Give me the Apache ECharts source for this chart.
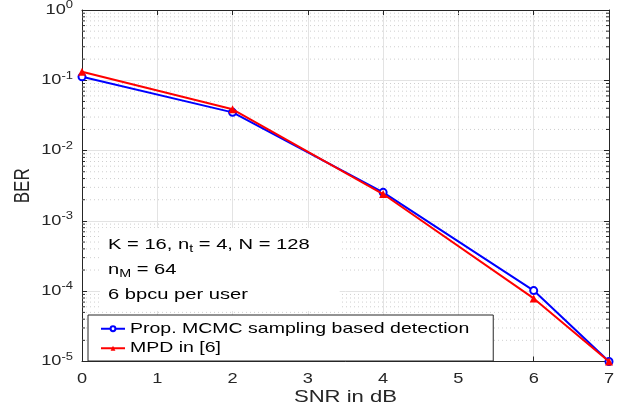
<!DOCTYPE html>
<html><head><meta charset="utf-8">
<script src="https://cdn.jsdelivr.net/npm/echarts@6/dist/echarts.min.js"></script>
<style>html,body{margin:0;padding:0;background:#fff}#c{width:623px;height:407px}</style>
</head><body><div id="c"></div>
<script>
const snr = [0, 2, 4, 6, 7];
const berMCMC = [0.112, 0.035, 0.00255, 0.000102, 0.00001];
const berMPD = [0.132, 0.0387, 0.00241, 0.000079, 0.00001];
const seriesNames = ['Prop. MCMC sampling based detection', 'MPD in [6]'];
const xTicks = [0, 1, 2, 3, 4, 5, 6, 7];
const yDecades = [-5, -4, -3, -2, -1, 0];

// The reference figure's text is horizontally stretched (~1.3x); emulate that on the canvas.
(function () {
  const P = CanvasRenderingContext2D.prototype;
  const SX = 1.3;
  const of = P.fillText, os = P.strokeText, om = P.measureText;
  function wrap(orig) {
    return function (t, x, y, mw) {
      const m = this.getTransform();
      this.save();
      this.translate(x, y);
      if (Math.abs(m.b) > Math.abs(m.a)) this.scale(1, SX); else this.scale(SX, 1);
      const r = (mw === undefined) ? orig.call(this, t, 0, 0) : orig.call(this, t, 0, 0, mw / SX);
      this.restore();
      return r;
    };
  }
  P.fillText = wrap(of);
  P.strokeText = wrap(os);
  P.measureText = function (t) {
    const m = om.call(this, t);
    return {
      width: m.width * SX,
      actualBoundingBoxAscent: m.actualBoundingBoxAscent,
      actualBoundingBoxDescent: m.actualBoundingBoxDescent,
      actualBoundingBoxLeft: m.actualBoundingBoxLeft * SX,
      actualBoundingBoxRight: m.actualBoundingBoxRight * SX,
      fontBoundingBoxAscent: m.fontBoundingBoxAscent,
      fontBoundingBoxDescent: m.fontBoundingBoxDescent
    };
  };
})();

const FONT = '"Liberation Sans", Arial, Helvetica, sans-serif';
const AX = '#262626';
const minorVals = [];
for (let i = 0; i < yDecades.length - 1; i++) {
  for (let m = 2; m <= 9; m++) minorVals.push([0, m * Math.pow(10, yDecades[i])]);
}

const chart = echarts.init(document.getElementById('c'), null, {renderer: 'canvas'});
const supRich = {
  b: {fontSize: 14, fontFamily: FONT, color: AX},
  s: {fontSize: 10, fontFamily: FONT, color: AX, padding: [0, 0, 9, 0]}
};
chart.setOption({
  animation: false,
  backgroundColor: '#fff',
  textStyle: {fontFamily: FONT},
  grid: {left: 82, right: 14, top: 10, bottom: 45.5, containLabel: false, outerBoundsMode: 'none'},
  xAxis: [{
    type: 'value', min: 0, max: 7, interval: 1,
    name: 'SNR in dB', nameLocation: 'middle', nameGap: 25, nameMoveOverlap: false,
    nameTextStyle: {fontSize: 17, color: AX, fontFamily: FONT},
    axisLine: {show: true, lineStyle: {color: AX, width: 1}},
    axisTick: {show: true, inside: true, length: 5, lineStyle: {color: AX}},
    axisLabel: {fontSize: 14, color: AX, margin: 9, fontFamily: FONT,
      formatter: v => xTicks.includes(v) ? String(v) : ''},
    splitLine: {show: true, lineStyle: {color: '#e3e3e3', width: 1}}
  }, {
    type: 'value', min: 0, max: 7, interval: 1, position: 'top',
    axisLine: {show: true, onZero: false, lineStyle: {color: AX, width: 1}},
    axisTick: {show: true, inside: true, length: 5, lineStyle: {color: AX}},
    axisLabel: {show: false}, splitLine: {show: false}
  }],
  yAxis: [{
    type: 'log', logBase: 10, min: 1e-5, max: 1, splitNumber: 5,
    name: 'BER', nameLocation: 'middle', nameGap: 48, nameMoveOverlap: false,
    nameTextStyle: {fontSize: 17, color: AX, fontFamily: FONT},
    axisLine: {show: true, lineStyle: {color: AX, width: 1}},
    axisTick: {show: true, inside: true, length: 5, lineStyle: {color: AX}},
    axisLabel: {margin: 9, color: AX, fontFamily: FONT,
      formatter: v => '{b|10}{s|' + Math.round(Math.log10(v)) + '}', rich: supRich},
    splitLine: {show: true, lineStyle: {color: '#e3e3e3', width: 1}},
    minorTick: {show: false}, minorSplitLine: {show: false}
  }, {
    type: 'log', logBase: 10, min: 1e-5, max: 1, splitNumber: 5, position: 'right',
    axisLine: {show: true, onZero: false, lineStyle: {color: AX, width: 1}},
    axisTick: {show: true, inside: true, length: 5, lineStyle: {color: AX}},
    axisLabel: {show: false}, splitLine: {show: false}
  }],
  legend: {
    data: seriesNames, orient: 'vertical', left: 88, top: 315,
    backgroundColor: '#fff', borderColor: '#262626', borderWidth: 1,
    padding: [4, 24, 3, 12], itemGap: 0, itemWidth: 24, itemHeight: 6,
    textStyle: {fontSize: 15, lineHeight: 16, color: '#000', fontFamily: FONT}
  },
  graphic: [{
    type: 'text', left: 100, top: 228, z: 50,
    style: {
      text: 'K = 16, n{sub|t} = 4, N = 128\nn{sub|M} = 64\n6 bpcu per user',
      fontSize: 15.5, fontFamily: FONT, fill: '#000', lineHeight: 25,
      backgroundColor: '#fff', padding: [4, 30, 4, 8],
      rich: {sub: {fontSize: 11, fontFamily: FONT, fill: '#000', padding: [8, 0, 0, 0]}}
    }
  }],
  series: [{
    type: 'custom', silent: true, z: 1, clip: false,
    data: minorVals,
    renderItem: (params, api) => {
      const v = api.value(1);
      const p0 = api.coord([0, v]);
      const p1 = api.coord([7, v]);
      return {type: 'group', children: [
        {type: 'line', shape: {x1: p0[0], y1: p0[1], x2: p1[0], y2: p1[1]},
         style: {stroke: '#cfcfcf', lineWidth: 1, lineDash: [1, 3]}},
        {type: 'line', shape: {x1: p0[0], y1: p0[1], x2: p0[0] + 3, y2: p0[1]},
         style: {stroke: AX, lineWidth: 1}},
        {type: 'line', shape: {x1: p1[0] - 3, y1: p1[1], x2: p1[0], y2: p1[1]},
         style: {stroke: AX, lineWidth: 1}}
      ]};
    }
  }, {
    name: seriesNames[0], type: 'line', z: 5,
    data: snr.map((x, i) => [x, berMCMC[i]]),
    color: '#0000ff', symbol: 'emptyCircle', symbolSize: 7,
    lineStyle: {width: 2, color: '#0000ff'},
    itemStyle: {color: '#0000ff', borderWidth: 1.5}
  }, {
    name: seriesNames[1], type: 'line', z: 6,
    data: snr.map((x, i) => [x, berMPD[i]]),
    color: '#ff0000', symbol: 'triangle', symbolSize: 8,
    lineStyle: {width: 2, color: '#ff0000'},
    itemStyle: {color: '#ff0000'}
  }]
});
</script></body></html>
